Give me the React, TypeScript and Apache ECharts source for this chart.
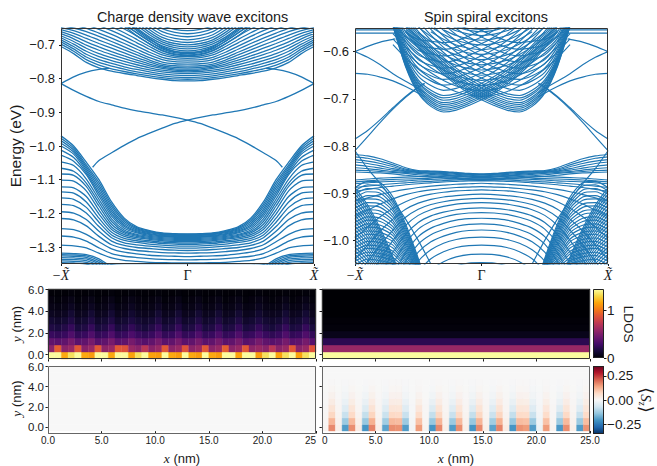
import React, { useEffect, useRef } from "react";
import * as echarts from "echarts";

// ---------- Left band chart (meV) ----------
const K11 = [0, 0.1, 0.2, 0.3, 0.4, 0.5, 0.6, 0.7, 0.8, 0.9, 1];
const CDW_COND = [
  [-807,-806,-802,-797,-791,-785,-778,-768,-752,-726,-705],
  [-802,-801,-797,-792,-786,-779,-771,-760,-744,-719,-698],
  [-797,-796,-792,-786,-780,-772,-763,-752,-736,-712,-691],
  [-791,-790,-786,-780,-773,-765,-755,-744,-728,-705,-685],
  [-785,-784,-780,-774,-766,-757,-747,-735,-719,-698,-679],
  [-780,-779,-775,-768,-759,-749,-738,-726,-710,-690,-673],
  [-776,-775,-770,-762,-752,-741,-729,-716,-701,-682,-667],
  [-772,-771,-766,-757,-745,-733,-720,-706,-691,-674,-661],
  [-768,-767,-762,-751,-738,-724,-710,-696,-681,-666,-655],
  [-763,-762,-757,-745,-730,-715,-700,-686,-671,-658,-649],
  [-757,-756,-751,-738,-722,-706,-690,-675,-661,-650,-643],
  [-751,-750,-744,-730,-713,-696,-680,-665,-651,-642,-637],
  [-745,-744,-737,-722,-704,-686,-669,-654,-641,-634,-630],
  [-740,-738,-730,-713,-694,-675,-658,-643,-631,-625,-622],
  [-735,-733,-724,-705,-684,-664,-647,-632,-621,-616,-614],
  [-732,-729,-718,-697,-674,-653,-636,-622,-612,-607,-606],
  [-726,-723,-712,-689,-664,-642,-625,-612,-603,-599,-598],
  [-722,-719,-706,-681,-654,-631,-614,-602,-594,-590,-590],
];
const CDW_UPPER = [
  [-730,-727,-716,-697,-673,-645,-615],
  [-724,-720,-709,-690,-665,-636,-606],
  [-718,-714,-703,-684,-658,-628,-598],
  [-712,-708,-697,-677,-650,-620,-590],
  [-706,-702,-691,-670,-642,-612],
  [-700,-696,-685,-663,-634],
  [-693,-689,-678,-655,-626],
  [-685,-681,-670,-647,-618],
  [-676,-672,-661,-638],
  [-667,-663,-652,-629],
  [-658,-654,-643,-620],
];
const CDW_VAL = [
  [-1261,-1260,-1258,-1251,-1240,-1214,-1166,-1100,-1048,-1000,-970],
  [-1262,-1261,-1259,-1253,-1243,-1219,-1173,-1108,-1056,-1006,-977],
  [-1264,-1263,-1261,-1255,-1246,-1224,-1180,-1116,-1062,-1012,-984],
  [-1266,-1265,-1263,-1257,-1249,-1229,-1187,-1124,-1068,-1018,-992],
  [-1268,-1267,-1265,-1260,-1252,-1234,-1194,-1132,-1074,-1024,-1000],
  [-1270,-1269,-1267,-1262,-1255,-1239,-1201,-1140,-1080,-1034,-1012],
  [-1272,-1271,-1269,-1265,-1258,-1244,-1208,-1148,-1085,-1045,-1027],
  [-1275,-1274,-1272,-1268,-1262,-1249,-1216,-1158,-1098,-1058,-1047],
  [-1278,-1277,-1275,-1271,-1265,-1254,-1224,-1168,-1110,-1075,-1066],
  [-1281,-1280,-1278,-1274,-1268,-1258,-1232,-1178,-1120,-1087,-1083],
  [-1284,-1283,-1281,-1277,-1272,-1263,-1240,-1190,-1133,-1104,-1101],
  [-1288,-1287,-1285,-1281,-1276,-1268,-1248,-1202,-1150,-1124,-1121],
  [-1292,-1291,-1289,-1285,-1281,-1274,-1256,-1214,-1166,-1140,-1136],
  [-1297,-1296,-1294,-1291,-1286,-1280,-1264,-1226,-1182,-1158,-1154],
  [-1303,-1302,-1300,-1297,-1293,-1287,-1272,-1239,-1199,-1177,-1173],
  [-1310,-1309,-1307,-1304,-1301,-1295,-1282,-1253,-1218,-1199,-1195],
  [-1318,-1317,-1316,-1313,-1310,-1304,-1293,-1268,-1237,-1219,-1215],
  [-1328,-1327,-1326,-1324,-1320,-1315,-1305,-1284,-1262,-1248,-1245],
  [-1338,-1337,-1336,-1334,-1331,-1327,-1319,-1302,-1282,-1270,-1267],
  [-1347,-1347,-1346,-1345,-1342,-1339,-1332,-1318,-1302,-1296,-1294],
  [-1349,-1349,-1349,-1349,-1349,-1349,-1351,-1365],
];
const CDW_BOTTOM_K = [0.6, 0.7, 0.8, 0.9, 1];
const CDW_BOTTOM = [
  [-1360,-1335,-1322,-1319,-1318],
  [-1365,-1340,-1326,-1323,-1322],
  [-1370,-1345,-1330,-1327,-1326],
  [-1375,-1350,-1335,-1332,-1331],
  [-1380,-1355,-1340,-1337,-1336],
  [-1385,-1360,-1345,-1342,-1341],
  [-1390,-1365,-1350,-1347,-1346],
];
const CHIRAL_K = [-1,-0.9,-0.8,-0.7,-0.6,-0.5,-0.4,-0.3,-0.2,-0.1,0,0.1,0.2,0.3,0.4,0.5,0.6,0.7,0.75];
const CHIRAL_E = [-815,-835,-853,-868,-878,-888,-896,-902,-908,-915,-923,-933,-947,-962,-978,-998,-1020,-1043,-1063];
const ARC_K = [1, 0.9, 0.8, 0.7, 0.62];
const ARC_E = [-815, -795, -781, -773, -770];

// ---------- Right band chart (meV) ----------
const SS_EDGE_K1 = [1, 0.9, 0.8, 0.7, 0.6, 0.5, 0.45];
const SS_EDGE = [
  [-600,-612,-628,-647,-663,-678,-688],
  [-646,-648,-654,-662,-674,-688,-696],
  [-810,-780,-750,-722,-697,-676,-668],
  [-785,-767,-744,-719,-695,-675,-667],
];
const SS_ARC_K = [1, 0.9, 0.8, 0.7, 0.68];
const SS_ARC = [
  [-600,-589,-580,-574,-573],
  [-561,-561,-561,-561,-561],
  [-554,-554,-554,-554,-554],
];
const SS_DIVE_K = [1, 0.9, 0.8, 0.7, 0.6, 0.5, 0.4];
const SS_DIVE = [-810, -848, -880, -915, -955, -1000, -1050];
const SS_A_K = [-0.7,-0.6,-0.5,-0.4,-0.3,-0.2,-0.1,0,0.1,0.2,0.3,0.4,0.5,0.6];
const SS_A = [
  [-545,-632,-688,-716,-728,-724,-714,-702,-688,-670,-648,-622,-592,-558],
  [-546,-630,-685,-712,-724,-720,-710,-698,-684,-666,-644,-618,-588,-554],
  [-542,-627,-681,-708,-720,-716,-706,-694,-680,-662,-640,-614,-584,-550],
  [-543,-625,-678,-704,-716,-712,-702,-690,-676,-658,-636,-610,-580,-546],
  [-539,-622,-674,-700,-712,-708,-698,-686,-672,-654,-632,-606,-576,-542],
  [-540,-620,-671,-696,-708,-704,-694,-682,-668,-650,-628,-602,-572,-538],
  [-536,-617,-667,-691,-703,-699,-689,-677,-663,-645,-623,-597,-567,-533],
  [-537,-615,-664,-687,-698,-694,-684,-672,-658,-640,-618,-592,-562,-528],
  [-533,-612,-660,-682,-693,-689,-679,-667,-653,-635,-613,-587,-557,-523],
  [-530,-607,-652,-672,-682,-678,-668,-656,-642,-624,-602,-576,-546,-512],
  [-527,-602,-644,-662,-671,-667,-657,-645,-631,-613,-591,-565,-535,-500],
  [-524,-596,-635,-651,-659,-655,-645,-633,-619,-601,-579,-553,-523],
  [-521,-590,-626,-640,-647,-643,-633,-621,-607,-589,-567,-541],
  [-518,-584,-617,-629,-635,-631,-621,-609,-595,-577,-555,-530],
  [-515,-578,-607,-617,-622,-618,-608,-596,-582,-564,-542],
  [-512,-572,-597,-605,-609,-605,-595,-583,-569,-551,-530],
  [-509,-565,-586,-592,-595,-591,-581,-569,-555,-537],
  [-506,-558,-574,-578,-581,-577,-567,-555,-541],
];
const SS_C_K = [0, 0.1, 0.2, 0.3, 0.4, 0.5, 0.6, 0.7];
const SS_C = [
  [-695,-692,-685,-673,-657,-637,-613,-585],
  [-683,-680,-673,-661,-645,-625,-601,-573],
  [-672,-669,-662,-650,-634,-614,-590,-562],
  [-661,-658,-651,-639,-623,-603,-579,-551],
  [-650,-647,-640,-628,-612,-592,-568,-540],
  [-639,-636,-629,-617,-601,-581,-557],
  [-628,-625,-618,-606,-590,-570,-546],
  [-617,-614,-607,-595,-579,-559],
  [-606,-603,-596,-584,-568,-548],
  [-596,-593,-586,-574,-558],
  [-586,-583,-576,-564,-548],
  [-576,-573,-566,-554],
  [-566,-563,-556,-544],
  [-558,-555,-548],
  [-553,-551,-546],
];
const SS_TOP = [
  [-859,-858,-856,-854,-853,-852,-846,-836,-827,-821,-818],
  [-860,-859,-857,-855,-854,-853,-849,-840,-832,-826,-823],
  [-861,-860,-858,-856,-855,-854,-851,-844,-837,-832,-829],
  [-863,-862,-860,-858,-857,-855,-853,-848,-842,-837,-834],
  [-865,-864,-862,-860,-858,-856,-854,-851,-847,-843,-840],
  [-867,-866,-864,-862,-860,-858,-856,-854,-851,-848,-846],
  [-870,-869,-867,-865,-863,-861,-858,-856,-854,-852,-851],
  [-873,-872,-870,-868,-866,-864,-862,-859,-857,-856,-855],
];
const SS_FROWN = [
  [-861,-861,-862,-863,-864,-865,-866,-867,-868,-870,-872],
  [-864,-864,-865,-866,-868,-869,-870,-871,-872,-874,-876],
  [-868,-868,-869,-870,-871,-872,-874,-875,-876,-878,-880],
  [-871,-871,-872,-873,-875,-876,-878,-880,-882,-885,-888],
  [-874,-874,-875,-876,-878,-880,-882,-885,-888,-892,-896],
  [-879,-880,-881,-883,-885,-888,-892,-897,-903,-910,-917],
  [-886,-887,-888,-890,-893,-897,-903,-912,-923,-936,-950],
  [-893,-894,-895,-898,-902,-908,-918,-932,-950,-972,-995],
  [-902,-903,-905,-908,-913,-921,-934,-955,-980,-1010,-1040],
  [-911,-912,-914,-918,-924,-934,-951,-978,-1010,-1045,-1080],
  [-920,-921,-923,-928,-935,-947,-968,-1000,-1040,-1085,-1130],
  [-931,-932,-935,-940,-948,-962,-987,-1025,-1075,-1130],
  [-941,-942,-945,-951,-960,-976,-1006,-1050,-1105],
  [-953,-954,-957,-964,-974,-992,-1026,-1075],
  [-965,-966,-970,-977,-988,-1008,-1045,-1100],
  [-978,-979,-983,-991,-1003,-1025,-1065],
  [-993,-994,-998,-1006,-1020,-1044,-1085],
  [-1010,-1011,-1015,-1024,-1039,-1065],
  [-1029,-1030,-1035,-1045,-1062],
  [-1047,-1048,-1054,-1065],
];
const SS_P_K = [0.4, 0.5, 0.6, 0.7, 0.8, 0.9, 1];
const SS_P = [
  [-1120,-1038,-965,-908,-878,-875,-888],
  [-1122,-1041,-970,-914,-885,-882,-895],
  [-1125,-1045,-975,-920,-893,-890,-902],
  [-1126,-1047,-980,-926,-900,-897,-909],
  [-1128,-1050,-985,-932,-908,-905,-917],
  [-1129,-1052,-990,-938,-915,-912,-924],
  [-1130,-1055,-995,-945,-923,-920,-932],
  [-1132,-1057,-1000,-951,-930,-927,-939],
  [-1135,-1060,-1005,-958,-938,-935,-947],
  [-1137,-1062,-1010,-964,-945,-942,-954],
  [-1140,-1065,-1015,-971,-953,-950,-962],
  [-1142,-1066,-1020,-977,-960,-957,-969],
  [-1145,-1068,-1025,-984,-968,-965,-977],
  [-1147,-1069,-1030,-990,-975,-972,-984],
  [-1150,-1070,-1035,-997,-983,-980,-992],
  [-1152,-1071,-1040,-1003,-990,-987,-999],
  [-1155,-1073,-1044,-1010,-998,-995,-1007],
  [-1157,-1074,-1048,-1016,-1005,-1002,-1014],
  [-1160,-1076,-1052,-1023,-1013,-1010,-1022],
  [-1162,-1078,-1056,-1029,-1020,-1017,-1029],
  [-1165,-1080,-1060,-1036,-1028,-1025,-1037],
  [-1167,-1082,-1064,-1043,-1035,-1032,-1044],
  [-1170,-1085,-1068,-1050,-1043,-1040,-1052],
];
const SS_Q_K = [1, 0.9, 0.8, 0.7, 0.6];
const SS_Q = [
  [-888,-925,-975,-1035,-1100],
  [-895,-931,-981,-1040,-1105],
  [-902,-938,-987,-1046,-1110],
  [-909,-945,-993,-1052],
  [-917,-952,-1000,-1058,-1120],
  [-924,-959,-1006,-1064],
  [-932,-966,-1013,-1070],
  [-939,-973,-1019,-1076],
  [-947,-980,-1026,-1082],
  [-954,-987,-1032,-1088],
  [-962,-994,-1039,-1094],
  [-969,-1001,-1045,-1100],
  [-977,-1008,-1052,-1106],
  [-984,-1015,-1058],
  [-992,-1022,-1065],
  [-999,-1029,-1071],
  [-1007,-1036,-1078],
  [-1014,-1043,-1085],
  [-1022,-1050,-1091],
  [-1029,-1057,-1098],
  [-1037,-1064,-1104],
  [-1044,-1071],
  [-1052,-1078],
];

// ---------- Heat maps, bottom row first ----------
const LDOS_CDW = [
  [145,145,118,135,145,118,114,145,145,118,145,145,116,135,145,116,114,145,118,114,145,118,114,145,118,114,145,145,116,145,145,114,135,145,116,135,145,116,135,145],
  [55,92,55,60,90,54,60,90,56,60,90,88,60,55,72,54,60,90,55,60,88,55,60,90,55,60,92,55,60,90,56,60,55,72,55,60,90,55,60,88],
  [40,38,40,48,38,40,48,37,40,48,38,40,48,40,36,40,48,38,40,48,38,40,48,38,40,48,38,40,48,37,40,48,40,37,40,48,38,40,48,37],
  [26,24,26,34,24,26,34,24,26,34,24,26,33,26,23,26,34,24,26,34,24,26,34,24,26,34,24,26,34,24,26,33,26,23,26,34,24,26,34,24],
  [18,16,19,25,16,18,25,16,18,25,16,18,24,18,15,19,25,16,18,25,16,18,25,16,18,25,16,18,25,16,18,24,18,15,19,25,16,18,25,16],
  [13,11,13,18,11,13,18,11,13,18,11,13,17,13,11,13,18,11,13,18,11,13,18,11,13,18,11,13,18,11,13,17,13,11,13,18,11,13,18,11],
  [8,7,8,13,7,8,13,7,8,13,7,8,12,8,7,8,13,7,8,13,7,8,13,7,8,13,7,8,13,7,8,12,8,7,8,13,7,8,13,7],
  [5,4,5,8,4,5,8,4,5,8,4,5,8,5,4,5,8,4,5,8,4,5,8,4,5,8,4,5,8,4,5,8,5,4,5,8,4,5,8,4],
  [3,2,3,5,2,3,5,2,3,5,2,3,5,3,2,3,5,2,3,5,2,3,5,2,3,5,2,3,5,2,3,5,3,2,3,5,2,3,5,2],
  [1,1,1,2,1,1,2,1,1,2,1,1,2,1,1,1,2,1,1,2,1,1,2,1,1,2,1,1,2,1,1,2,1,1,1,2,1,1,2,1],
];
const LDOS_SPIRAL = [[145],[60],[22],[6],[2],[1],[0],[0],[0],[0]];
const SZ_CDW = [[0],[0],[0],[0],[0],[0],[0],[0],[0],[0]];
const SZ_SPIRAL = [
  [10,170,20,-200,165,30,-210,175,20,-190,165,160,-200,-10,150,10,-210,170,20,-200,165,20,-210,170,20,-190,175,30,-210,160,150,-200,-20,150,10,-205,165,20,-200,160],
  [8,120,15,-130,115,20,-135,125,15,-125,115,110,-130,-8,105,8,-135,120,15,-130,115,15,-135,120,15,-125,125,20,-135,110,105,-130,-15,105,8,-130,115,15,-130,110],
  [6,75,10,-80,70,12,-85,78,10,-78,72,68,-80,-5,65,5,-85,75,10,-80,72,10,-85,75,10,-78,78,12,-85,68,65,-80,-10,65,5,-82,72,10,-80,68],
  [4,48,7,-45,45,8,-48,50,7,-44,46,44,-45,-4,42,4,-48,48,7,-45,46,7,-48,48,7,-44,50,8,-48,44,42,-45,-6,42,4,-46,46,7,-45,44],
  [3,28,4,-24,26,5,-26,30,4,-24,27,26,-24,-2,24,2,-26,28,4,-24,27,4,-26,28,4,-24,30,5,-26,26,24,-24,-4,24,2,-25,27,4,-24,26],
  [2,15,2,-12,14,3,-13,16,2,-12,14,14,-12,-1,12,1,-13,15,2,-12,14,2,-13,15,2,-12,16,3,-13,14,12,-12,-2,12,1,-12,14,2,-12,14],
  [1,6,1,-5,6,1,-5,7,1,-5,6,6,-5,0,5,0,-5,6,1,-5,6,1,-5,6,1,-5,7,1,-5,6,5,-5,-1,5,0,-5,6,1,-5,6],
  [0,2,0,-2,2,0,-2,2,0,-2,2,2,-2,0,2,0,-2,2,0,-2,2,0,-2,2,0,-2,2,0,-2,2,2,-2,0,2,0,-2,2,0,-2,2],
  [0],
  [0],
];

// ---------- Colour maps and tick labels ----------
const INFERNO = ["#000004","#160b39","#420a68","#6a176e","#932667","#bc3754","#dd513a","#f37819","#fca50a","#f6d746","#fcffa4"];
const RDBU_R = ["#053061","#2166ac","#4393c3","#92c5de","#d1e5f0","#f7f7f7","#fddbc7","#f4a582","#d6604d","#b2182b","#67001f"];
const LDOS_MAX = 1.46;
const SZ_MAX = 0.354;
const BAND_CDW_TICKS = [-1.3, -1.2, -1.1, -1.0, -0.9, -0.8, -0.7];
const BAND_SS_TICKS = [-1.0, -0.9, -0.8, -0.7, -0.6];
const K_TICKS = [-1, 0, 1];
const HEAT_Y_TICKS = [0, 2, 4, 6];
const HEAT_X_TICKS = [0, 5, 10, 15, 20, 25];
const LDOS_TICKS = [0, 1];
const SZ_TICKS = [-0.25, 0, 0.25];

const BLUE = "#1f77b4";
const SANS = '"Liberation Sans", Arial, sans-serif';
const SERIF = '"Liberation Serif", "DejaVu Serif", serif';
const INK = "#1a1a1a";
const Y_RANGE = [-0.4, 6.05];

function hexRgb(h: string) {
  return [parseInt(h.slice(1, 3), 16), parseInt(h.slice(3, 5), 16), parseInt(h.slice(5, 7), 16)];
}
function sampler(stops: string[]) {
  return (t: number) => {
    const u = Math.max(0, Math.min(1, t)) * (stops.length - 1);
    const i = Math.min(stops.length - 2, Math.floor(u));
    const a = hexRgb(stops[i]);
    const b = hexRgb(stops[i + 1]);
    const f = u - i;
    return `rgb(${a.map((c, j) => Math.round(c + (b[j] - c) * f)).join(",")})`;
  };
}
const inferno = sampler(INFERNO);
const rdbu = sampler(RDBU_R);

function App() {
  const ref = useRef<HTMLDivElement>(null);
  useEffect(() => {
    document.body.style.margin = "0";
    const chart = echarts.init(ref.current!, null, { renderer: "svg" });

    const grids: any[] = [];
    const xAxes: any[] = [];
    const yAxes: any[] = [];
    const series: any[] = [];
    const frames: any[] = [];

    const addGrid = (l: number, t: number, w: number, h: number, x: any, y: any, frame = "#333") => {
      const idx = grids.length;
      grids.push({ left: l, top: t, width: w, height: h, containLabel: false });
      xAxes.push({ gridIndex: idx, ...x });
      yAxes.push({ gridIndex: idx, ...y });
      frames.push({
        type: "rect",
        z: 100,
        silent: true,
        shape: { x: l + 0.5, y: t + 0.5, width: w - 1, height: h - 1 },
        style: { fill: "transparent", stroke: frame, lineWidth: 1 },
      });
      return idx;
    };

    const noLine = { show: false, onZero: false };
    const kAxis = {
      type: "value",
      min: -1,
      max: 1,
      splitLine: { show: false },
      axisLine: noLine,
      axisTick: { show: true, length: 2, customValues: K_TICKS, lineStyle: { color: INK } },
      axisLabel: {
        customValues: K_TICKS,
        margin: 4,
        formatter: (v: number) => (v < 0 ? "{n|\u2212}{i|X\u0303}" : v === 0 ? "{n|\u0393}" : "{i|X\u0303}"),
        rich: {
          n: { fontFamily: SERIF, fontSize: 14, color: INK },
          i: { fontFamily: SERIF, fontStyle: "italic", fontSize: 14, color: INK },
        },
      },
    };
    const bandY = (lo: number, hi: number, ticks: number[], name?: string) => ({
      type: "value",
      min: lo,
      max: hi,
      name,
      nameLocation: "middle",
      nameGap: 38,
      nameTextStyle: { fontFamily: SANS, fontSize: 15.5, color: INK },
      splitLine: { show: false },
      axisLine: noLine,
      axisTick: { show: true, length: 2, customValues: ticks, lineStyle: { color: INK } },
      axisLabel: {
        customValues: ticks,
        margin: 6,
        fontFamily: SANS,
        fontSize: 13,
        color: INK,
        formatter: (v: number) => "\u2212" + Math.abs(v).toFixed(1),
      },
    });

    const band0 = addGrid(61, 28, 253, 236, kAxis, bandY(-1.35, -0.65, BAND_CDW_TICKS, "Energy (eV)"));
    const band1 = addGrid(355, 28, 253, 236, kAxis, bandY(-1.05, -0.55, BAND_SS_TICKS));

    const addLine = (g: number, pts: number[][]) =>
      series.push({
        type: "line",
        xAxisIndex: g,
        yAxisIndex: g,
        data: pts,
        showSymbol: false,
        symbol: "none",
        smooth: 0.25,
        silent: true,
        clip: true,
        z: 2,
        lineStyle: { color: BLUE, width: g === band0 ? 1.3 : 1.15 },
      });
    const addPair = (g: number, ks: number[], row: number[]) => {
      const pts = row.map((e, i) => [ks[i], e / 1000]);
      if (ks[0] === 0) {
        const left = pts.slice(1).reverse().map(([k, e]) => [-k, e]);
        addLine(g, left.concat(pts));
      } else {
        addLine(g, pts);
        addLine(g, pts.map(([k, e]) => [-k, e]));
      }
    };

    CDW_COND.forEach((r) => addPair(band0, K11, r));
    CDW_UPPER.forEach((r) => addPair(band0, K11, r));
    CDW_VAL.forEach((r) => addPair(band0, K11, r));
    CDW_BOTTOM.forEach((r) => addPair(band0, CDW_BOTTOM_K, r));
    addPair(band0, CHIRAL_K, CHIRAL_E);
    addPair(band0, ARC_K, ARC_E);

    SS_EDGE.forEach((r) => addPair(band1, SS_EDGE_K1, r));
    SS_ARC.forEach((r) => addPair(band1, SS_ARC_K, r));
    addPair(band1, SS_DIVE_K, SS_DIVE);
    SS_A.forEach((r) => addPair(band1, SS_A_K, r));
    SS_C.forEach((r) => addPair(band1, SS_C_K, r));
    SS_TOP.forEach((r) => addPair(band1, K11, r));
    SS_FROWN.forEach((r) => addPair(band1, K11, r));
    SS_P.forEach((r) => addPair(band1, SS_P_K, r));
    SS_Q.forEach((r) => addPair(band1, SS_Q_K, r));

    // Heat maps
    const nameStyle = {
      fontFamily: SANS,
      fontSize: 13,
      color: INK,
      rich: { i: { fontFamily: SERIF, fontStyle: "italic", fontSize: 13.5, color: INK } },
    };
    const heatX = (labels: boolean, first: string, last: string, name?: string) => ({
      type: "value",
      min: 0,
      max: 25,
      name,
      nameLocation: "middle",
      nameGap: 20,
      nameTextStyle: nameStyle,
      splitLine: { show: false },
      axisLine: noLine,
      axisTick: { show: true, length: 2.5, customValues: HEAT_X_TICKS, lineStyle: { color: INK } },
      axisLabel: {
        show: labels,
        customValues: HEAT_X_TICKS,
        margin: 4,
        fontFamily: SANS,
        fontSize: 10,
        color: INK,
        alignMinLabel: first === "0" ? "left" : "center",
        alignMaxLabel: last === "25" ? "right" : "center",
        formatter: (v: number) => (v === 0 ? first : v === 25 ? last : v.toFixed(1)),
      },
    });
    const heatY = (labels: boolean) => ({
      type: "value",
      min: Y_RANGE[0],
      max: Y_RANGE[1],
      name: labels ? "{i|y} (nm)" : undefined,
      nameLocation: "middle",
      nameGap: 25,
      nameTextStyle: nameStyle,
      splitLine: { show: false },
      axisLine: noLine,
      axisTick: { show: true, length: 2.5, customValues: HEAT_Y_TICKS, lineStyle: { color: INK } },
      axisLabel: {
        show: labels,
        customValues: HEAT_Y_TICKS,
        margin: 4,
        fontFamily: SANS,
        fontSize: 11.5,
        color: INK,
        formatter: (v: number) => v.toFixed(1),
      },
    });
    const addHeat = (g: number, rows: number[][], scale: (v: number) => string) => {
      const dy = (Y_RANGE[1] - Y_RANGE[0]) / rows.length;
      const data: number[][] = [];
      rows.forEach((row, j) => {
        const dx = 25 / row.length;
        row.forEach((v, i) => data.push([(i + 0.5) * dx, Y_RANGE[0] + (j + 0.5) * dy, dx, dy, v]));
      });
      series.push({
        type: "custom",
        xAxisIndex: g,
        yAxisIndex: g,
        silent: true,
        z: 2,
        data,
        encode: { x: 0, y: 1 },
        renderItem: (_: any, api: any) => {
          const x = api.value(0), y = api.value(1), w = api.value(2), h = api.value(3);
          const a = api.coord([x - w / 2, y + h / 2]);
          const b = api.coord([x + w / 2, y - h / 2]);
          const c = scale(api.value(4));
          return {
            type: "rect",
            shape: { x: a[0], y: a[1], width: b[0] - a[0], height: b[1] - a[1] },
            style: { fill: c, stroke: c, lineWidth: 0.4 },
          };
        },
      });
    };
    const ldosColor = (v: number) => inferno(v / 100 / LDOS_MAX);
    const szColor = (v: number) => rdbu(0.5 + (v / 1000 / SZ_MAX) / 2);

    const h0 = addGrid(48, 289, 268, 70, heatX(false, "0.0", "25.0"), heatY(true));
    const h1 = addGrid(322, 289, 268, 70, heatX(false, "0", "25.0"), heatY(false));
    const h2 = addGrid(48, 366, 268, 68, heatX(true, "0.0", "25", "{i|x} (nm)"), heatY(true), "#666");
    const h3 = addGrid(322, 366, 268, 68, heatX(true, "0", "25.0", "{i|x} (nm)"), heatY(false), "#666");
    addHeat(h0, LDOS_CDW, ldosColor);
    addHeat(h1, LDOS_SPIRAL, ldosColor);
    addHeat(h2, SZ_CDW, szColor);
    addHeat(h3, SZ_SPIRAL, szColor);

    // Colour bars
    const addBar = (t: number, h: number, lo: number, hi: number, ticks: number[], stops: string[], fmt: (v: number) => string) => {
      const g = addGrid(593, t, 11, h,
        { type: "value", min: 0, max: 1, show: false },
        {
          type: "value",
          position: "right",
          min: lo,
          max: hi,
          splitLine: { show: false },
          axisLine: noLine,
          axisTick: { show: true, length: 2.5, customValues: ticks, lineStyle: { color: INK } },
          axisLabel: { customValues: ticks, margin: 3, hideOverlap: false, fontFamily: SANS, fontSize: 13.5, color: INK, formatter: fmt },
        },
        "#222");
      series.push({
        type: "custom",
        xAxisIndex: g,
        yAxisIndex: g,
        silent: true,
        z: 2,
        data: [[0, lo, 1, hi]],
        encode: { x: 0, y: 1 },
        renderItem: (_: any, api: any) => {
          const a = api.coord([api.value(0), api.value(3)]);
          const b = api.coord([api.value(2), api.value(1)]);
          return {
            type: "rect",
            shape: { x: a[0], y: a[1], width: b[0] - a[0], height: b[1] - a[1] },
            style: {
              fill: new echarts.graphic.LinearGradient(0, 1, 0, 0, stops.map((color, i) => ({ offset: i / (stops.length - 1), color }))),
            },
          };
        },
      });
    };
    addBar(289, 69, 0, LDOS_MAX, LDOS_TICKS, INFERNO, (v) => String(v));
    addBar(366, 68, -SZ_MAX, SZ_MAX, SZ_TICKS, RDBU_R,
      (v) => (v < 0 ? "\u2212" : "") + Math.abs(v).toFixed(2));

    const barTitles = [
      {
        type: "text", x: 628, y: 324, rotation: -Math.PI / 2, silent: true, z: 100,
        style: { text: "LDOS", align: "center", verticalAlign: "middle", fontFamily: SANS, fontSize: 13.5, fill: INK },
      },
      {
        type: "text", x: 646, y: 400, rotation: -Math.PI / 2, silent: true, z: 100,
        style: {
          text: "{a|\u27E8}{s|S}{z|z}{a|\u27E9}",
          align: "center",
          verticalAlign: "middle",
          fill: INK,
          rich: {
            a: { fontFamily: '"DejaVu Sans"', fontSize: 18, fill: INK },
            s: { fontFamily: SERIF, fontStyle: "italic", fontSize: 15, fill: INK },
            z: { fontFamily: SERIF, fontStyle: "italic", fontSize: 10, fill: INK, verticalAlign: "bottom" },
          },
        },
      },
    ];

    chart.setOption({
      animation: false,
      backgroundColor: "#fff",
      title: [
        { text: "Charge density wave excitons", left: 187.5, top: 5, textAlign: "center", textStyle: { fontFamily: SANS, fontWeight: "normal", fontSize: 14.4, color: INK } },
        { text: "Spin spiral excitons", left: 481, top: 5, textAlign: "center", textStyle: { fontFamily: SANS, fontWeight: "normal", fontSize: 14.4, color: INK } },
      ],
      grid: grids,
      xAxis: xAxes,
      yAxis: yAxes,
      series,
      graphic: [...frames, ...barTitles],
    });
    return () => chart.dispose();
  }, []);
  return <div ref={ref} style={{ position: "fixed", left: 0, top: 0, width: 657, height: 466 }} />;
}

export default App;
